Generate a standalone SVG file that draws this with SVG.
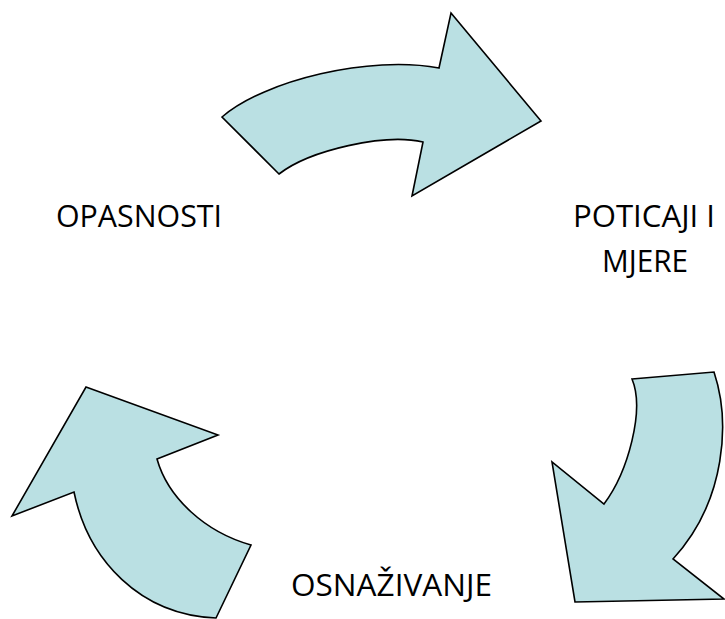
<svg xmlns="http://www.w3.org/2000/svg" width="725" height="619" viewBox="0 0 725 619">
<style>
.arrow{fill:#BAE0E3;stroke:#000;stroke-width:1.6;stroke-linejoin:miter}
.lbl{font-family:"Open Sans","Liberation Sans",sans-serif;font-size:31px;fill:#000}
</style>
<rect width="725" height="619" fill="#fff"/>
<g id="connectors">
<path id="arrow-top" class="arrow" d="M222,117 C265,80 370,55 439,68 L451,13 L541,121 L412,196 L423,142 C385,133 310,150 279,174 Z"/>
<path id="arrow-right" class="arrow" d="M632,379 L714,372 C730,420 727,500 673,559 L724,599 L575,602 L552,462 L604,504 C628,472 645,410 632,379 Z"/>
<path id="arrow-left" class="arrow" d="M86,387 L218,435 L157,459 C168,498 205,532 251,545 L216,618 C140,615 88,560 74,492 L12,516 Z"/>
</g>
<g id="node-opasnosti">
<text class="lbl" x="56" y="227" textLength="166" lengthAdjust="spacingAndGlyphs">OPASNOSTI</text>
</g>
<g id="node-poticaji">
<text class="lbl" x="573" y="227" textLength="142" lengthAdjust="spacingAndGlyphs">POTICAJI I</text>
<text class="lbl" x="602" y="272" textLength="86" lengthAdjust="spacingAndGlyphs">MJERE</text>
</g>
<g id="node-osnazivanje">
<text class="lbl" x="291" y="596" textLength="201" lengthAdjust="spacingAndGlyphs">OSNAŽIVANJE</text>
</g>
</svg>
